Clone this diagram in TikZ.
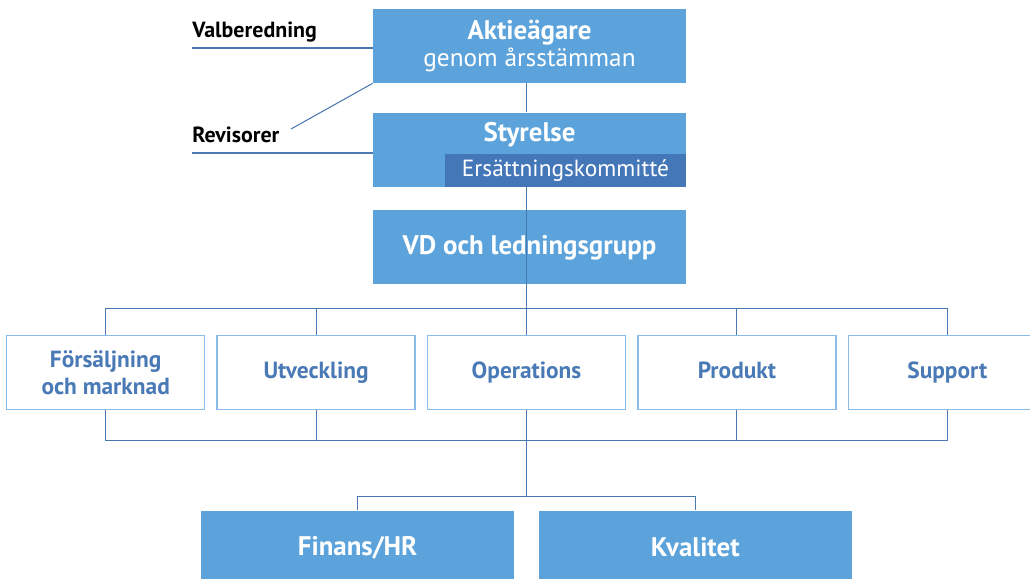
\documentclass[tikz,border=0pt]{standalone}
\usepackage{fontspec}
\setmainfont{PT Sans}
\usetikzlibrary{positioning, calc}
\definecolor{orgblue}{HTML}{5CA3DB}
\definecolor{orgdark}{HTML}{4477B8}
\definecolor{linkblue}{HTML}{4B78B1}
\definecolor{framelight}{HTML}{89BCE6}
\definecolor{textblue}{HTML}{4A7AB6}
\tikzset{
    mainbox/.style={rectangle, fill=orgblue, text=white, minimum width=6.26cm, minimum height=1.48cm, align=center, inner sep=0pt},
    subbox/.style={rectangle, fill=orgdark, text=white, minimum width=4.82cm, minimum height=0.66cm, inner sep=0pt, font=\fontsize{13.3}{15}\selectfont},
    unitbox/.style={rectangle, draw=framelight, line width=0.8pt, fill=white, text=textblue, minimum width=3.96cm, minimum height=1.48cm, align=center, inner sep=0pt, font=\bfseries\fontsize{13.3}{15.5}\selectfont},
    oneline/.style={text height=9.6pt, text depth=3pt},
    headfont/.style={font=\bfseries\fontsize{15.3}{18}\selectfont},
    headtext/.style={headfont, text=white, inner sep=0pt},
    sidetext/.style={anchor=west, inner sep=0pt, font=\bfseries\fontsize{12.5}{14}\selectfont},
    link/.style={draw=linkblue, line width=0.6pt}
}
\begin{document}
\begin{tikzpicture}[node distance=0.58cm and 0.22cm]
    \useasboundingbox (0,0) rectangle (20.6,-11.58);

    % owners, board and management
    \node[mainbox] (aktie) at (10.59,-0.92) {{\bfseries\fontsize{15.3}{18}\selectfont Aktieägare}\\[0pt]{\fontsize{14.4}{17}\selectfont genom årsstämman}};
    \node[mainbox, below=of aktie] (styr) {};
    \node[headtext] (styrtxt) at ($(styr.north)+(0,-0.44)$) {Styrelse};
    \node[subbox, anchor=south east] (ersk) at (styr.south east) {Ersättningskommitté};
    \node[mainbox, below=0.46cm of styr, headfont] (vd) {VD och ledningsgrupp};

    % side functions
    \node[sidetext] (valb) at (3.84,-0.64) {Valberedning};
    \node[sidetext] (revi) at (3.84,-2.70) {Revisorer};
    \coordinate (valbend) at (3.84,-0.96);
    \coordinate (reviend) at (3.84,-3.06);
    \coordinate (revitip) at (5.82,-2.58);
    \draw[link] (valbend) -- (valbend -| aktie.west);
    \draw[link] (reviend) -- (reviend -| styr.west);
    \draw[link] (aktie.south west) -- (revitip);

    % business units
    \node[unitbox, oneline, below=1.0cm of vd, xshift=-0.06cm] (ops) {Operations};
    \node[unitbox, oneline, left=of ops] (utv) {Utveckling};
    \node[unitbox, left=of utv] (fors) {Försäljning\\och marknad};
    \node[unitbox, oneline, right=of ops] (prod) {Produkt};
    \node[unitbox, oneline, right=of prod] (supp) {Support};

    \draw[link] (aktie.south -| ops.north) -- (styr.north -| ops.north);
    \draw[link] (styr.south -| ops.north) -- (vd.south -| ops.north);
    \draw[link] (vd.south -| ops.north) -- (ops.north);

    \coordinate (topbus) at ($(ops.north)+(0,0.52)$);
    \coordinate (botbus) at ($(ops.south)+(0,-0.60)$);
    \draw[link] (fors.north) |- (topbus) -| (supp.north);
    \draw[link] (fors.south) |- (botbus) -| (supp.south);
    \foreach \n in {utv,prod} {
        \draw[link] (\n.north) -- (\n.north |- topbus);
        \draw[link] (\n.south) -- (\n.south |- botbus);
    }

    % staff functions
    \node[mainbox, anchor=north east, headfont] (fin) at ($(ops.south)+(-0.24,-2.0)$) {Finans/HR};
    \node[mainbox, anchor=north west, headfont] (kval) at ($(ops.south)+(0.24,-2.0)$) {Kvalitet};

    \coordinate (lowbus) at ($(ops.south)+(0,-1.72)$);
    \draw[link] (ops.south) -- (lowbus);
    \draw[link] (fin.north) |- (lowbus) -| (kval.north);
\end{tikzpicture}
\end{document}
